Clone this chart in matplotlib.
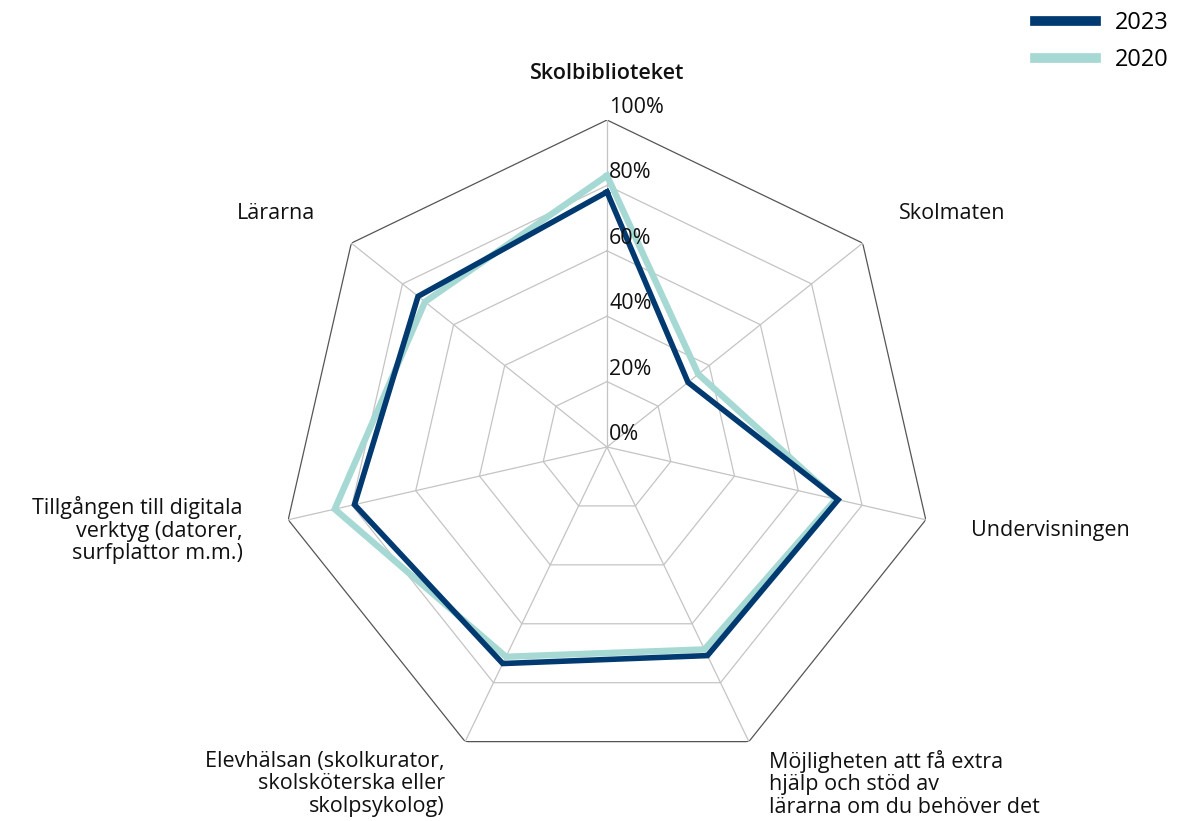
import numpy as np
import matplotlib
matplotlib.use("Agg")
import matplotlib.pyplot as plt
from matplotlib.lines import Line2D

categories = [
    "Skolbiblioteket",
    "Skolmaten",
    "Undervisningen",
    "Möjligheten att få extra\nhjälp och stöd av\nlärarna om du behöver det",
    "Elevhälsan (skolkurator,\nskolsköterska eller\nskolpsykolog)",
    "Tillgången till digitala\nverktyg (datorer,\nsurfplattor m.m.)",
    "Lärarna",
]
values_2023 = [0.78, 0.317, 0.725, 0.708, 0.735, 0.792, 0.739]
values_2020 = [0.83, 0.357, 0.718, 0.687, 0.712, 0.854, 0.712]
ring_levels = [0.0, 0.2, 0.4, 0.6, 0.8, 1.0]
ring_labels = ["0%", "20%", "40%", "60%", "80%", "100%"]

plt.rcParams['font.family'] = ['Open Sans', 'DejaVu Sans']

W, H = 1198, 821
fig = plt.figure(figsize=(W / 100, H / 100), dpi=100)
cx, cy, R = 607, 447, 327
ax = fig.add_axes([(cx - R) / W, (H - cy - R) / H, 2 * R / W, 2 * R / H], projection='polar')
ax.set_theta_zero_location('N')
ax.set_theta_direction(-1)
ax.set_ylim(0, 1)
ax.grid(False)
ax.spines['polar'].set_visible(False)
ax.set_xticks([])
ax.set_yticks([])
ax.patch.set_alpha(0)

n = len(categories)
theta = np.linspace(0, 2 * np.pi, n, endpoint=False)
theta_c = np.append(theta, theta[0])

# rings
for lv in ring_levels[1:]:
    col = '#555555' if lv == 1.0 else '#c4c4c4'
    ax.plot(theta_c, [lv] * (n + 1), color=col, lw=0.9, zorder=1)
# spokes
for t in theta:
    ax.plot([t, t], [0, 1], color='#c4c4c4', lw=0.9, zorder=1)

v20 = values_2020 + values_2020[:1]
v23 = values_2023 + values_2023[:1]
ax.plot(theta_c, v20, color='#a6d9d3', lw=4.6, solid_joinstyle='miter', zorder=3, label='2020')
ax.plot(theta_c, v23, color='#003a70', lw=4.0, solid_joinstyle='miter', zorder=4, label='2023')

# ring labels
for lv, lab in zip(ring_levels, ring_labels):
    ax.annotate(lab, xy=(0, lv), xytext=(1.5, 9), textcoords='offset points',
                ha='left', va='center', fontsize=15.5, color='#111111', zorder=5)

# category labels
for t, lab in zip(theta, categories):
    s = np.sin(t)
    if abs(s) < 1e-6:
        ha = 'center'
    elif s > 0:
        ha = 'left'
    else:
        ha = 'right'
    ax.text(t, 1.143, lab, ha=ha, va='center', fontsize=15.5, color='#111111',
            linespacing=1.1, fontweight='semibold' if t == 0 else 'normal')

# legend
handles = [Line2D([], [], color='#003a70', lw=7), Line2D([], [], color='#a6d9d3', lw=7)]
fig.legend(handles, ['2023', '2020'], loc='upper right', bbox_to_anchor=(1190 / W, 1 + 10 / H),
           frameon=False, fontsize=17, handlelength=2.6, handletextpad=0.8, labelspacing=0.55)

fig.savefig('out.png', dpi=100)
